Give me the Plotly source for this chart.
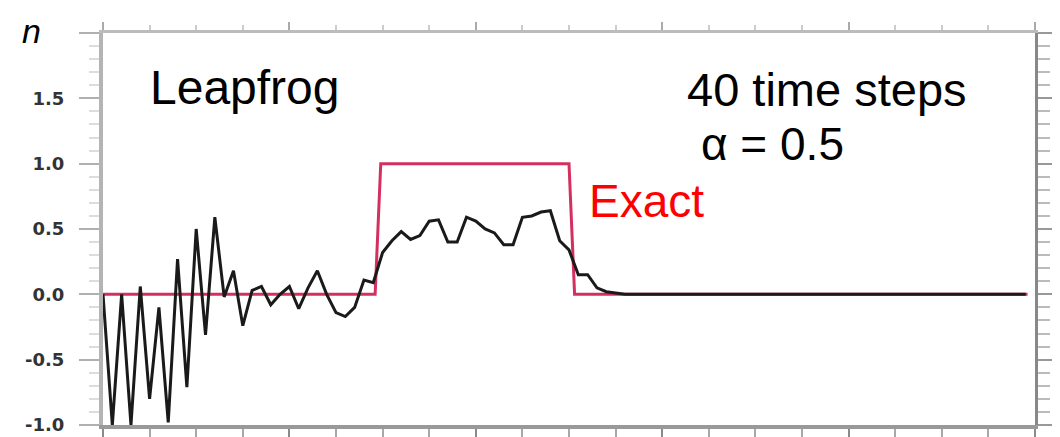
import plotly.graph_objects as go

# grid positions (dx = 0.5) and leapfrog solution values
x_num = [i * 0.5 for i in range(100)]
n_leapfrog = [
    0.00, -1.00, 0.00, -1.00, 0.06, -0.80, -0.10, -0.98, 0.27, -0.71,
    0.50, -0.31, 0.59, -0.02, 0.18, -0.24, 0.03, 0.06, -0.08, 0.00,
    0.06, -0.11, 0.05, 0.18, 0.00, -0.14, -0.17, -0.10, 0.11, 0.09,
    0.32, 0.41, 0.48, 0.42, 0.45, 0.56, 0.57, 0.40, 0.40, 0.59,
    0.56, 0.50, 0.47, 0.38, 0.38, 0.59, 0.60, 0.63, 0.64, 0.41,
    0.34, 0.15, 0.15, 0.05, 0.02, 0.01, 0.00, 0.00, 0.00, 0.00,
] + [0.00] * 40

# exact square pulse
x_exact = [0.0, 14.6, 14.9, 25.0, 25.3, 49.6]
n_exact = [0.0, 0.0, 1.0, 1.0, 0.0, 0.0]

y_tickvals = [-1.0, -0.5, 0.0, 0.5, 1.0, 1.5, 2.0]
y_ticktext = ["-1.0", "-0.5", "0.0", "0.5", "1.0", "1.5", ""]

FONT = "Liberation Sans, Arial, sans-serif"

fig = go.Figure()
# exact solution on the bottom/left axes, leapfrog on the top/right axes (drawn above)
fig.add_trace(go.Scatter(x=x_exact, y=n_exact, mode="lines",
                         line=dict(color="#d4305f", width=3), showlegend=False))
fig.add_trace(go.Scatter(x=x_num, y=n_leapfrog, mode="lines", xaxis="x2", yaxis="y2",
                         line=dict(color="#1a1a1a", width=3), showlegend=False))

# the page body has an 8px margin, so the figure is sized to fit inside it
fig.update_layout(
    width=1044, height=429,
    margin=dict(l=95, r=17, t=25, b=12, autoexpand=False),
    paper_bgcolor="white", plot_bgcolor="white",
    showlegend=False,
    xaxis=dict(range=[0, 50], showgrid=False, zeroline=False,
               showline=True, linecolor="#999999", linewidth=4,
               ticks="outside", ticklen=10, tickwidth=2, tickcolor="#8a8a8a",
               tick0=0, dtick=10, showticklabels=False,
               minor=dict(ticks="outside", ticklen=8, tickwidth=2,
                          tickcolor="#a8a8a8", dtick=2.5)),
    xaxis2=dict(range=[0, 50], overlaying="x", side="top", anchor="y2",
                showgrid=False, zeroline=False,
                showline=True, linecolor="#bcbcbc", linewidth=3,
                ticks="outside", ticklen=8, tickwidth=2, tickcolor="#aaaaaa",
                tick0=0, dtick=10, showticklabels=False,
                minor=dict(ticks="outside", ticklen=5, tickwidth=2,
                           tickcolor="#cccccc", dtick=2.5)),
    yaxis=dict(range=[-1, 2], showgrid=False, zeroline=False,
               showline=True, linecolor="#b4b4b4", linewidth=4,
               ticks="outside", ticklen=20, tickwidth=2, tickcolor="#b0b0b0",
               tickvals=y_tickvals, ticktext=y_ticktext,
               tickfont=dict(family="DejaVu Sans, sans-serif", size=18,
                             color="#333333", weight="bold"),
               ticklabelstandoff=11, ticklabeloverflow="allow",
               minor=dict(ticks="outside", ticklen=10, tickwidth=2,
                          tickcolor="#dddddd", dtick=0.1)),
    yaxis2=dict(range=[-1, 2], overlaying="y", side="right", anchor="x2",
                showgrid=False, zeroline=False,
                showline=True, linecolor="#888888", linewidth=3,
                ticks="outside", ticklen=17, tickwidth=2, tickcolor="#999999",
                tickvals=y_tickvals, showticklabels=False,
                minor=dict(ticks="outside", ticklen=12, tickwidth=2,
                           tickcolor="#bbbbbb", dtick=0.1)),
    annotations=[
        dict(text="Leapfrog", xref="paper", yref="paper", x=0.0483, y=0.862,
             xanchor="left", yanchor="middle", showarrow=False,
             font=dict(family=FONT, size=48, color="black")),
        dict(text="40 time steps", xref="paper", yref="paper", x=0.6245, y=0.857,
             xanchor="left", yanchor="middle", showarrow=False,
             font=dict(family=FONT, size=47, color="black")),
        dict(text="\u03b1 = 0.5", xref="paper", yref="paper", x=0.6395, y=0.718,
             xanchor="left", yanchor="middle", showarrow=False,
             font=dict(family=FONT, size=46, color="black")),
        dict(text="Exact", xref="paper", yref="paper", x=0.5193, y=0.571,
             xanchor="left", yanchor="middle", showarrow=False,
             font=dict(family=FONT, size=46, color="#ff0000")),
        dict(text="n", xref="paper", yref="paper", x=-0.0762, y=1.0051,
             xanchor="center", yanchor="middle", showarrow=False,
             font=dict(family=FONT, size=34, color="black", style="italic")),
    ],
)

fig.write_html("out.html")
